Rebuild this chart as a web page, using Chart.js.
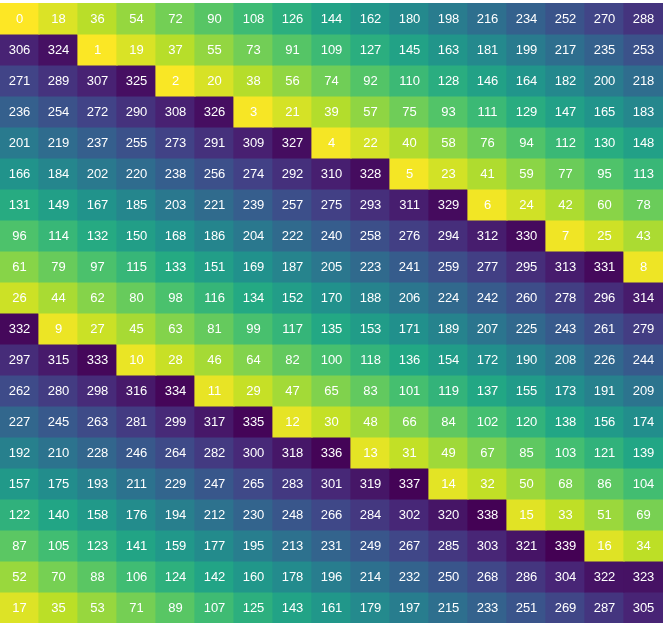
<!DOCTYPE html>
<html>
<head>
<meta charset="utf-8">
<script src="https://cdn.jsdelivr.net/npm/chart.js@4"></script>
<style>
  html, body { margin: 0; padding: 0; background: #fff; overflow: hidden; }
  #wrap { width: 666px; height: 627px; }
</style>
</head>
<body>
<div id="wrap"><canvas id="heat" width="666" height="627"></canvas></div>
<script>
const columns = ['0','1','2','3','4','5','6','7','8','9','10','11','12','13','14','15','16'];
const rows = ['0','1','2','3','4','5','6','7','8','9','10','11','12','13','14','15','16','17','18','19'];

const cellValues = [
    [0, 18, 36, 54, 72, 90, 108, 126, 144, 162, 180, 198, 216, 234, 252, 270, 288],
    [306, 324, 1, 19, 37, 55, 73, 91, 109, 127, 145, 163, 181, 199, 217, 235, 253],
    [271, 289, 307, 325, 2, 20, 38, 56, 74, 92, 110, 128, 146, 164, 182, 200, 218],
    [236, 254, 272, 290, 308, 326, 3, 21, 39, 57, 75, 93, 111, 129, 147, 165, 183],
    [201, 219, 237, 255, 273, 291, 309, 327, 4, 22, 40, 58, 76, 94, 112, 130, 148],
    [166, 184, 202, 220, 238, 256, 274, 292, 310, 328, 5, 23, 41, 59, 77, 95, 113],
    [131, 149, 167, 185, 203, 221, 239, 257, 275, 293, 311, 329, 6, 24, 42, 60, 78],
    [96, 114, 132, 150, 168, 186, 204, 222, 240, 258, 276, 294, 312, 330, 7, 25, 43],
    [61, 79, 97, 115, 133, 151, 169, 187, 205, 223, 241, 259, 277, 295, 313, 331, 8],
    [26, 44, 62, 80, 98, 116, 134, 152, 170, 188, 206, 224, 242, 260, 278, 296, 314],
    [332, 9, 27, 45, 63, 81, 99, 117, 135, 153, 171, 189, 207, 225, 243, 261, 279],
    [297, 315, 333, 10, 28, 46, 64, 82, 100, 118, 136, 154, 172, 190, 208, 226, 244],
    [262, 280, 298, 316, 334, 11, 29, 47, 65, 83, 101, 119, 137, 155, 173, 191, 209],
    [227, 245, 263, 281, 299, 317, 335, 12, 30, 48, 66, 84, 102, 120, 138, 156, 174],
    [192, 210, 228, 246, 264, 282, 300, 318, 336, 13, 31, 49, 67, 85, 103, 121, 139],
    [157, 175, 193, 211, 229, 247, 265, 283, 301, 319, 337, 14, 32, 50, 68, 86, 104],
    [122, 140, 158, 176, 194, 212, 230, 248, 266, 284, 302, 320, 338, 15, 33, 51, 69],
    [87, 105, 123, 141, 159, 177, 195, 213, 231, 249, 267, 285, 303, 321, 339, 16, 34],
    [52, 70, 88, 106, 124, 142, 160, 178, 196, 214, 232, 250, 268, 286, 304, 322, 323],
    [17, 35, 53, 71, 89, 107, 125, 143, 161, 179, 197, 215, 233, 251, 269, 287, 305]
];

// viridis, reversed below so small values are yellow
const viridis = ['#440154', '#482475', '#414487', '#355f8d', '#2a788e', '#21918c',
                 '#22a884', '#44bf70', '#7ad151', '#bddf26', '#fde725'];

function hexRgb(h) {
    return [1, 3, 5].map(i => parseInt(h.substr(i, 2), 16));
}

const allVals = cellValues.flat();
const vmin = Math.min(...allVals);
const vmax = Math.max(...allVals);

function colorFor(v) {
    let t = 1 - (v - vmin) / (vmax - vmin);
    let pos = t * (viridis.length - 1);
    let i = Math.min(Math.floor(pos), viridis.length - 2);
    let f = pos - i;
    let a = hexRgb(viridis[i]), b = hexRgb(viridis[i + 1]);
    let c = a.map((x, k) => Math.round(x + (b[k] - x) * f));
    return 'rgb(' + c.join(',') + ')';
}

const datasets = rows.map((r, ri) => ({
    label: 'row ' + r,
    data: columns.map(() => [ri, ri + 1]),
    values: cellValues[ri],
    backgroundColor: cellValues[ri].map(colorFor),
    borderWidth: 0,
    barPercentage: 1,
    categoryPercentage: 1,
    inflateAmount: 0.6
}));

const cellText = {
    id: 'cellText',
    afterDatasetsDraw(chart) {
        const ctx = chart.ctx;
        ctx.save();
        ctx.fillStyle = '#ffffff';
        ctx.font = '13px "Liberation Sans", Arial, sans-serif';
        ctx.textAlign = 'center';
        ctx.textBaseline = 'middle';
        chart.data.datasets.forEach((ds, di) => {
            chart.getDatasetMeta(di).data.forEach((bar, i) => {
                const mid = (bar.y + bar.base) / 2;
                ctx.fillText(String(ds.values[i]), bar.x, mid + 1);
            });
        });
        ctx.restore();
    }
};

new Chart(document.getElementById('heat').getContext('2d'), {
    type: 'bar',
    data: { labels: columns, datasets: datasets },
    plugins: [cellText],
    options: {
        responsive: false,
        animation: false,
        layout: { padding: { left: 0, right: 3, top: 3, bottom: 4 } },
        scales: {
            x: { display: false, stacked: true, grid: { display: false } },
            y: { display: false, stacked: false, min: 0, max: 20, reverse: true, grid: { display: false } }
        },
        plugins: {
            legend: { display: false },
            tooltip: { enabled: false }
        }
    }
});
</script>
</body>
</html>
